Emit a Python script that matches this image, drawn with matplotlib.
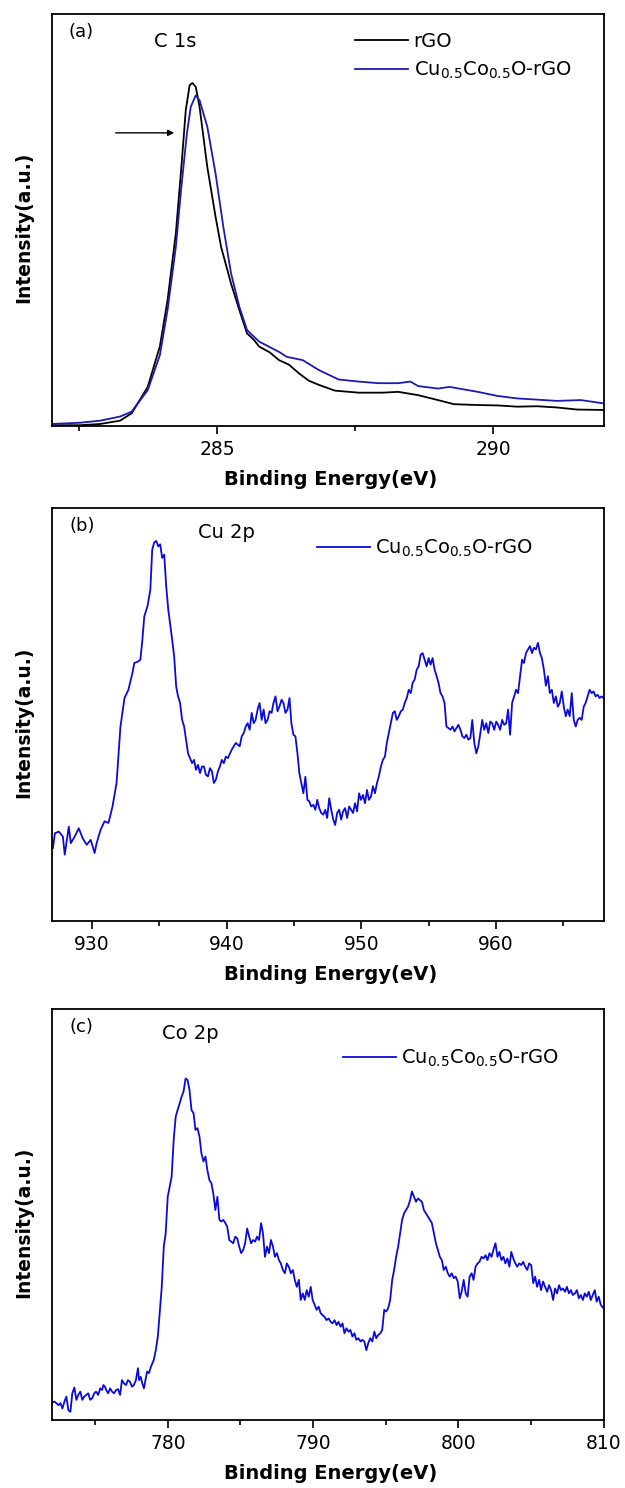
import matplotlib
matplotlib.use('Agg')
import matplotlib.pyplot as plt
from matplotlib.ticker import FixedLocator, NullLocator

plt.rcParams['font.family'] = ['DejaVu Sans']
plt.rcParams['mathtext.default'] = 'regular'

# ---------------- (a) C 1s ----------------
c1s_rgo_energy = [282.00, 282.52, 282.88, 283.24, 283.45, 283.74, 283.96, 284.10, 284.25, 284.35,
                  284.43, 284.50, 284.55, 284.61, 284.68, 284.82, 284.97, 285.07, 285.25, 285.40,
                  285.54, 285.66, 285.76, 285.95, 286.12, 286.30, 286.48, 286.66, 286.84, 287.13,
                  287.56, 288.00, 288.28, 288.64, 289.00, 289.29, 289.72, 290.08, 290.44, 290.80,
                  291.16, 291.52, 292.00]
c1s_rgo_int = [0.2, 0.2, 0.5, 1.3, 3.1, 9.5, 19.3, 30.6, 46.8, 62.9,
               76.7, 82.8, 83.3, 82.4, 77.5, 62.9, 50.8, 43.5, 34.6, 28.2,
               22.5, 21.0, 19.3, 17.9, 16.0, 14.9, 12.8, 11.0, 10.0, 8.6,
               8.1, 8.1, 8.3, 7.5, 6.3, 5.3, 5.1, 5.0, 4.7, 4.8,
               4.5, 4.0, 3.9]
c1s_cu_energy = [282.00, 282.52, 282.88, 283.24, 283.45, 283.74, 283.96, 284.10, 284.25, 284.35,
                 284.45, 284.52, 284.61, 284.68, 284.82, 284.97, 285.11, 285.25, 285.40, 285.54,
                 285.76, 286.12, 286.26, 286.55, 286.84, 287.20, 287.56, 287.92, 288.28, 288.50,
                 288.64, 289.00, 289.21, 289.72, 290.08, 290.44, 291.16, 291.59, 292.00]
c1s_cu_int = [0.5, 0.8, 1.3, 2.3, 3.5, 8.7, 17.2, 28.2, 43.5, 58.1,
              71.0, 77.5, 80.3, 79.1, 72.7, 61.3, 48.4, 37.1, 29.0, 23.3,
              20.5, 18.0, 16.8, 16.0, 13.6, 11.3, 10.8, 10.4, 10.4, 10.8,
              9.7, 9.1, 9.5, 8.3, 7.3, 6.7, 6.1, 6.3, 5.5]

# ---------------- (b) Cu 2p ----------------
cu2p_energy = [927.09, 927.24, 927.53, 927.83, 927.97, 928.27, 928.42, 928.71, 929.01, 929.30,
               929.60, 929.90, 930.19, 930.34, 930.63, 930.93, 931.22, 931.52, 931.82, 932.11,
               932.41, 932.70, 933.00, 933.14, 933.44, 933.59, 933.74, 933.88, 934.12, 934.33,
               934.47, 934.62, 934.77, 934.92, 935.06, 935.21, 935.36, 935.51, 935.66, 935.95,
               936.10, 936.25, 936.39, 936.54, 936.69, 936.84, 937.13, 937.43, 937.58, 937.72,
               937.87, 938.02, 938.17, 938.31, 938.46, 938.61, 938.76, 938.91, 939.05, 939.20,
               939.35, 939.50, 939.64, 939.79, 939.94, 940.09, 940.38, 940.53, 940.68, 940.97,
               941.12, 941.27, 941.42, 941.56, 941.71, 941.86, 942.01, 942.15, 942.30, 942.45,
               942.60, 942.75, 942.89, 943.04, 943.19, 943.34, 943.48, 943.63, 943.78, 943.93,
               944.08, 944.22, 944.37, 944.52, 944.67, 944.81, 944.96, 945.11, 945.26, 945.40,
               945.55, 945.70, 945.85, 946.00, 946.14, 946.29, 946.44, 946.59, 946.73, 946.88,
               947.03, 947.18, 947.33, 947.47, 947.62, 947.77, 947.92, 948.06, 948.21, 948.36,
               948.51, 948.65, 948.80, 948.95, 949.10, 949.25, 949.39, 949.54, 949.69, 949.84,
               949.98, 950.13, 950.28, 950.43, 950.57, 950.72, 950.87, 951.02, 951.17, 951.31,
               951.46, 951.61, 951.76, 951.90, 952.05, 952.20, 952.35, 952.49, 952.64, 952.79,
               952.94, 953.09, 953.23, 953.38, 953.53, 953.68, 953.82, 953.97, 954.12, 954.27,
               954.41, 954.56, 954.71, 954.86, 955.01, 955.15, 955.30, 955.45, 955.60, 955.74,
               955.89, 956.04, 956.19, 956.33, 956.48, 956.63, 956.78, 956.93, 957.07, 957.22,
               957.37, 957.52, 957.66, 957.81, 957.96, 958.11, 958.25, 958.40, 958.55, 958.70,
               958.85, 958.99, 959.14, 959.29, 959.44, 959.58, 959.73, 959.88, 960.03, 960.17,
               960.32, 960.47, 960.62, 960.77, 960.91, 961.06, 961.21, 961.36, 961.50, 961.65,
               961.80, 961.95, 962.09, 962.24, 962.39, 962.54, 962.69, 962.83, 962.98, 963.13,
               963.28, 963.42, 963.57, 963.72, 963.87, 964.01, 964.16, 964.31, 964.46, 964.61,
               964.75, 964.90, 965.05, 965.20, 965.34, 965.49, 965.64, 965.79, 965.94, 966.08,
               966.23, 966.38, 966.53, 966.67, 966.82, 966.97, 967.12, 967.26, 967.41, 967.56,
               967.71, 967.86, 968.00]
cu2p_int = [17.6, 21.2, 21.6, 20.4, 16.0, 22.8, 18.8, 20.4, 22.4, 20.0,
            18.4, 19.6, 16.4, 18.8, 22.0, 24.1, 23.7, 27.7, 33.4, 47.1,
            54.0, 56.0, 60.1, 62.5, 62.9, 63.3, 68.2, 73.8, 76.3, 80.3,
            90.0, 91.8, 92.1, 90.8, 91.3, 88.0, 88.8, 81.1, 75.5, 68.2,
            64.1, 56.8, 54.4, 52.8, 48.7, 47.1, 40.6, 38.2, 39.0, 36.6,
            37.8, 35.8, 37.4, 37.4, 35.4, 35.0, 37.0, 36.2, 33.4, 34.2,
            36.2, 37.4, 39.0, 38.2, 39.8, 39.4, 41.5, 42.3, 43.1, 42.3,
            44.7, 45.5, 47.1, 47.9, 46.3, 50.4, 47.9, 48.7, 51.2, 52.8,
            48.7, 51.2, 47.9, 48.7, 50.8, 50.4, 52.8, 54.4, 50.8, 52.0,
            53.6, 52.8, 50.4, 51.2, 54.0, 47.9, 45.1, 44.7, 40.6, 35.8,
            33.4, 30.9, 34.9, 29.3, 28.9, 27.7, 28.1, 26.9, 29.3, 27.3,
            26.1, 25.7, 26.9, 24.9, 29.7, 26.9, 24.5, 23.2, 26.1, 26.9,
            24.5, 26.5, 27.3, 24.9, 27.7, 26.9, 26.1, 28.5, 26.5, 30.9,
            29.3, 30.5, 28.5, 31.7, 29.3, 30.1, 32.6, 30.9, 33.4, 35.0,
            37.4, 39.0, 39.8, 43.1, 45.5, 47.9, 50.4, 50.8, 48.7, 49.6,
            50.8, 51.2, 52.8, 54.0, 56.0, 55.2, 57.7, 58.5, 60.9, 61.7,
            64.5, 64.9, 63.3, 61.7, 63.7, 62.1, 63.7, 60.9, 59.3, 57.7,
            55.2, 54.4, 52.8, 47.1, 46.7, 46.3, 47.1, 45.9, 46.7, 47.5,
            46.3, 44.7, 44.3, 45.1, 43.9, 44.3, 48.7, 43.1, 40.6, 42.3,
            45.5, 48.7, 46.3, 47.9, 45.5, 48.3, 47.9, 46.3, 48.3, 47.5,
            46.3, 48.7, 47.5, 47.9, 51.2, 45.1, 52.8, 54.4, 56.0, 55.2,
            59.3, 63.3, 62.5, 64.9, 65.8, 66.6, 64.9, 66.2, 65.8, 67.4,
            64.9, 63.7, 60.9, 57.0, 59.3, 55.2, 56.0, 52.8, 54.4, 51.9,
            52.8, 55.6, 51.9, 49.6, 51.2, 49.6, 55.2, 48.7, 47.1, 48.7,
            49.2, 48.7, 51.9, 52.8, 54.4, 56.0, 55.2, 55.6, 54.4, 54.8,
            54.0, 54.4, 54.0]

# ---------------- (c) Co 2p ----------------
co2p_energy = [772.00, 772.19, 772.47, 772.60, 772.74, 772.88, 773.01, 773.15, 773.29, 773.42,
               773.56, 773.70, 773.83, 773.97, 774.11, 774.24, 774.38, 774.52, 774.65, 774.79,
               774.93, 775.06, 775.20, 775.34, 775.47, 775.56, 775.67, 775.75, 775.89, 776.02,
               776.16, 776.30, 776.43, 776.57, 776.71, 776.84, 776.98, 777.12, 777.25, 777.39,
               777.53, 777.66, 777.80, 777.94, 778.02, 778.13, 778.24, 778.35, 778.48, 778.57,
               778.70, 778.84, 779.03, 779.17, 779.31, 779.44, 779.58, 779.72, 779.85, 779.99,
               780.13, 780.26, 780.40, 780.54, 780.67, 780.81, 780.95, 781.08, 781.22, 781.36,
               781.49, 781.63, 781.77, 781.90, 782.04, 782.18, 782.31, 782.45, 782.59, 782.72,
               782.86, 783.00, 783.13, 783.27, 783.41, 783.55, 783.68, 783.82, 783.96, 784.09,
               784.23, 784.37, 784.50, 784.64, 784.78, 784.91, 785.05, 785.19, 785.32, 785.46,
               785.60, 785.73, 785.87, 786.01, 786.14, 786.28, 786.42, 786.55, 786.69, 786.83,
               786.96, 787.10, 787.24, 787.37, 787.51, 787.65, 787.78, 787.92, 788.06, 788.19,
               788.33, 788.47, 788.61, 788.74, 788.88, 789.02, 789.15, 789.29, 789.43, 789.56,
               789.70, 789.84, 789.97, 790.11, 790.25, 790.38, 790.52, 790.66, 790.79, 790.93,
               791.07, 791.21, 791.34, 791.48, 791.62, 791.75, 791.89, 792.03, 792.16, 792.30,
               792.44, 792.57, 792.71, 792.85, 792.98, 793.12, 793.26, 793.39, 793.53, 793.67,
               793.80, 793.94, 794.08, 794.22, 794.35, 794.49, 794.63, 794.76, 794.90, 795.04,
               795.17, 795.31, 795.45, 795.58, 795.72, 795.86, 795.99, 796.13, 796.27, 796.40,
               796.54, 796.68, 796.81, 796.95, 797.09, 797.22, 797.36, 797.50, 797.63, 797.77,
               797.91, 798.05, 798.18, 798.32, 798.46, 798.59, 798.73, 798.87, 799.00, 799.14,
               799.28, 799.41, 799.55, 799.69, 799.82, 799.96, 800.10, 800.23, 800.37, 800.51,
               800.64, 800.78, 800.92, 801.05, 801.19, 801.33, 801.46, 801.60, 801.74, 801.88,
               802.01, 802.15, 802.29, 802.42, 802.56, 802.70, 802.83, 802.97, 803.11, 803.24,
               803.38, 803.52, 803.65, 803.79, 803.93, 804.06, 804.20, 804.34, 804.47, 804.61,
               804.75, 804.88, 805.02, 805.16, 805.29, 805.43, 805.57, 805.70, 805.84, 805.98,
               806.12, 806.25, 806.39, 806.53, 806.66, 806.80, 806.94, 807.07, 807.21, 807.35,
               807.48, 807.62, 807.76, 807.89, 808.03, 808.17, 808.30, 808.44, 808.58, 808.71,
               808.85, 808.99, 809.12, 809.26, 809.40, 809.53, 809.67, 809.81, 810.00]
co2p_int = [4.1, 4.5, 3.6, 4.1, 2.8, 4.5, 5.7, 2.4, 2.0, 6.5,
            7.9, 4.9, 6.1, 6.9, 4.9, 5.7, 6.1, 6.5, 4.9, 5.3,
            6.5, 6.9, 6.1, 7.7, 7.3, 8.5, 8.1, 7.3, 6.5, 7.7,
            6.9, 6.5, 7.3, 7.5, 6.1, 9.7, 8.9, 8.5, 9.7, 9.3,
            8.1, 8.5, 9.7, 12.6, 9.7, 10.5, 8.9, 7.7, 10.1, 11.8,
            11.4, 13.0, 14.6, 17.0, 20.3, 26.0, 32.4, 42.2, 45.4, 54.3,
            56.8, 59.2, 68.1, 73.8, 75.4, 77.0, 78.7, 79.9, 83.1, 82.7,
            80.3, 75.4, 74.6, 70.6, 71.0, 68.9, 64.9, 62.9, 64.1, 60.8,
            58.4, 57.6, 55.1, 51.1, 54.3, 48.7, 48.3, 48.7, 47.9, 47.0,
            43.8, 43.4, 43.0, 44.6, 44.2, 42.2, 40.6, 41.4, 43.0, 46.6,
            44.6, 43.0, 43.8, 43.4, 44.6, 43.8, 47.9, 45.4, 39.7, 42.2,
            40.6, 43.8, 42.2, 39.7, 40.6, 38.9, 38.1, 36.5, 35.7, 38.1,
            37.3, 35.7, 36.5, 34.1, 32.4, 34.1, 29.2, 30.8, 29.2, 31.6,
            30.0, 32.4, 29.2, 28.0, 26.8, 27.6, 26.0, 25.5, 25.1, 24.3,
            24.7, 23.9, 23.5, 24.3, 23.1, 23.9, 22.7, 23.5, 21.1, 22.3,
            21.5, 21.9, 20.3, 21.1, 19.5, 19.9, 19.1, 19.5, 19.1, 17.0,
            18.7, 19.9, 19.1, 21.5, 19.9, 20.7, 21.1, 21.9, 26.8, 26.4,
            27.2, 29.2, 34.1, 36.5, 39.7, 42.2, 45.4, 48.7, 50.3, 51.1,
            51.9, 53.5, 55.6, 54.3, 53.1, 53.9, 53.5, 53.1, 51.1, 50.3,
            49.5, 48.7, 47.9, 45.4, 43.0, 41.4, 39.7, 38.9, 36.5, 37.3,
            35.7, 34.9, 35.7, 34.5, 34.9, 33.7, 29.6, 31.2, 34.1, 30.8,
            30.0, 34.9, 35.7, 34.1, 37.3, 38.1, 38.5, 39.7, 39.3, 40.1,
            38.9, 40.6, 39.7, 41.4, 43.0, 39.7, 40.9, 38.9, 39.7, 38.1,
            39.3, 37.3, 40.9, 39.3, 38.1, 37.3, 38.1, 37.7, 38.5, 37.3,
            36.5, 38.1, 37.7, 33.3, 34.9, 32.4, 34.1, 31.6, 33.7, 32.4,
            31.2, 32.8, 31.6, 29.2, 32.0, 30.8, 32.8, 31.6, 32.0, 31.2,
            32.4, 30.8, 31.6, 30.4, 30.8, 31.6, 29.6, 30.4, 29.2, 30.8,
            30.0, 31.2, 29.2, 30.4, 31.6, 28.8, 30.0, 28.0, 27.2]

legend_label = r'Cu$_{0.5}$Co$_{0.5}$O-rGO'
BLUE_A = '#1a1ab4'
BLUE = '#0a0adc'

fig = plt.figure(figsize=(6.25, 14.88), dpi=100)
L, W = 0.0827, 0.8829
axA = fig.add_axes([L, 0.7137, W, 0.2767])
axB = fig.add_axes([L, 0.3813, W, 0.2770])
axC = fig.add_axes([L, 0.0457, W, 0.2762])


def style(ax, xlim, majors, minors, tag, tagpos, title, titlepos):
    ax.set_xlim(*xlim)
    ax.set_ylim(0, 100)
    ax.xaxis.set_major_locator(FixedLocator(majors))
    ax.xaxis.set_minor_locator(FixedLocator(minors))
    ax.yaxis.set_major_locator(NullLocator())
    ax.tick_params(axis='x', which='major', direction='out', length=6, width=1.2,
                   labelsize=13.5, pad=4, top=False)
    ax.tick_params(axis='x', which='minor', direction='out', length=3.5, width=1.2, top=False)
    for s in ax.spines.values():
        s.set_linewidth(1.3)
    ax.set_xlabel('Binding Energy(eV)', fontsize=14, fontweight='bold', va='center')
    ax.xaxis.set_label_coords(0.506, -0.131)
    ax.set_ylabel('Intensity(a.u.)', fontsize=13.5, fontweight='bold', va='center')
    ax.yaxis.set_label_coords(-0.050, 0.482)
    ax.text(tagpos[0], tagpos[1], tag, transform=ax.transAxes, ha='center', va='center',
            fontsize=13)
    ax.text(titlepos[0], titlepos[1], title, transform=ax.transAxes, ha='center', va='center',
            fontsize=14)


# (a)
axA.plot(c1s_rgo_energy, c1s_rgo_int, color='black', lw=1.3, label='rGO')
axA.plot(c1s_cu_energy, c1s_cu_int, color=BLUE_A, lw=1.3, label=legend_label)
style(axA, (282, 292), [285, 290], [282.5, 287.5], '(a)', (0.053, 0.957), 'C 1s', (0.224, 0.935))
axA.annotate('', xy=(284.22, 71.2), xytext=(283.16, 71.2),
             arrowprops=dict(arrowstyle='-|>', color='black', lw=1.0,
                             mutation_scale=9, shrinkA=0, shrinkB=0))
axA.legend(loc='upper left', bbox_to_anchor=(0.55, 0.958), frameon=False, fontsize=14,
           handlelength=2.7, handletextpad=0.3, labelspacing=0.45, borderpad=0, borderaxespad=0)

# (b)
axB.plot(cu2p_energy, cu2p_int, color=BLUE, lw=1.3, label=legend_label)
style(axB, (927, 968), [930, 940, 950, 960], [935, 945, 955, 965], '(b)', (0.055, 0.9575),
      'Cu 2p', (0.316, 0.9406))
axB.legend(loc='upper left', bbox_to_anchor=(0.481, 0.928), frameon=False, fontsize=14,
           handlelength=2.7, handletextpad=0.3, borderpad=0, borderaxespad=0)

# (c)
axC.plot(co2p_energy, co2p_int, color=BLUE, lw=1.3, label=legend_label)
style(axC, (772, 810), [780, 790, 800, 810], [775, 785, 795, 805], '(c)', (0.054, 0.956),
      'Co 2p', (0.252, 0.9416))
axC.legend(loc='upper left', bbox_to_anchor=(0.528, 0.905), frameon=False, fontsize=14,
           handlelength=2.7, handletextpad=0.3, borderpad=0, borderaxespad=0)

fig.savefig('out.png', dpi=100)
